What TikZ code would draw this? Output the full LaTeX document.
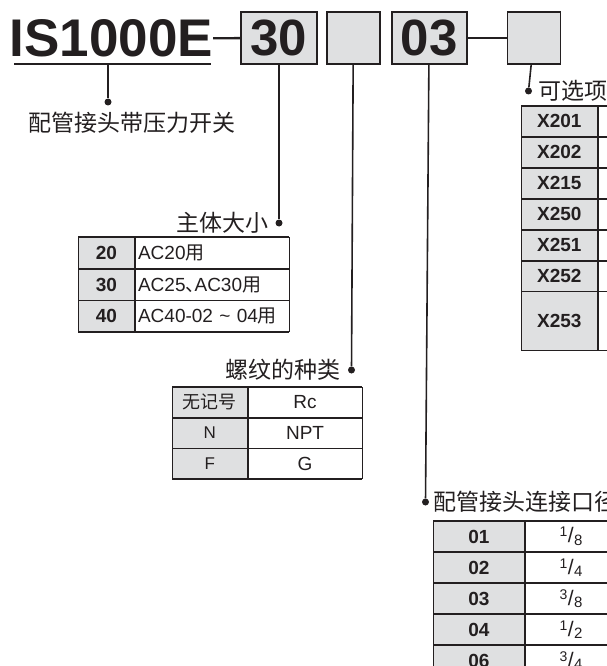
\documentclass[tikz,border=0pt]{standalone}
\usepackage{fontspec}
\setmainfont{Liberation Sans}
\newfontfamily\cjk{Noto Sans CJK SC}
\usetikzlibrary{positioning}

\definecolor{tinta}{RGB}{35,31,32}
\definecolor{grisclave}{RGB}{223,224,225}
\newcommand{\fraccion}[2]{\raisebox{6pt}{\fontsize{14}{14}\selectfont #1}\kern0.5pt{\fontsize{21}{21}\selectfont/}\kern0.5pt\raisebox{-2.5pt}{\fontsize{15}{15}\selectfont #2}}

\begin{document}
\begin{tikzpicture}[
		x=1pt, y=-1pt,
		% Casillas del código
		codebox/.style = {draw=tinta, line width=1.8pt, fill=grisclave, minimum height=52pt, inner sep=0pt, text=tinta, font=\fontsize{51}{51}\selectfont\bfseries},
		% Líneas guía y puntos
		guia/.style = {draw=tinta, line width=1.6pt},
		punto/.style = {circle, fill=tinta, inner sep=0pt, minimum size=7pt},
		etiqueta/.style = {inner sep=0pt, text=tinta, font=\cjk\fontsize{23}{23}\selectfont},
		% Celdas de las tablas
		celda/.style = {draw=tinta, line width=0.7pt, anchor=north west, inner sep=0pt, text=tinta},
		clave/.style = {celda, fill=grisclave, font=\fontsize{19}{19}\selectfont\bfseries},
		valor/.style = {celda, fill=white, font=\fontsize{19}{19}\selectfont},
		tallaclave/.style = {clave, minimum width=56pt, minimum height=31pt},
		tallavalor/.style = {valor, minimum height=31pt, text width=148pt, inner xsep=3pt, align=left},
		roscaclave/.style = {celda, fill=grisclave, minimum width=75pt, minimum height=30pt, font=\fontsize{17}{17}\selectfont},
		roscavalor/.style = {valor, minimum width=114pt, minimum height=30pt},
		conexclave/.style = {clave, minimum width=91pt, minimum height=30.3pt},
		conexvalor/.style = {valor, minimum width=92pt, minimum height=30.3pt},
		opcionclave/.style = {clave, minimum width=76pt, minimum height=30.2pt},
		opcionvalor/.style = {valor, minimum width=100pt, minimum height=30.2pt},
		grueso/.style = {draw=tinta, line width=1.6pt}
		]
		
		\clip (0,0) rectangle (607,666);
		
		% --- CÓDIGO DEL MODELO ---
		\node [inner sep=0pt, anchor=base west, text=tinta, font=\fontsize{53}{53}\selectfont\bfseries] (modelo) at (9.5,57) {IS1000E};
		\draw [tinta, line width=2.6pt] (14,64) -- (211,64);
		\node [codebox, minimum width=76pt] (talla) at (279,38) {30};
		\node [codebox, minimum width=53pt, right=8pt of talla] (rosca) {};
		\node [codebox, minimum width=75pt, right=10pt of rosca] (conex) {03};
		\node [codebox, minimum width=53pt, right=39pt of conex] (opcion) {};
		
		\draw [guia, line width=2.4pt] (modelo) -- (talla);
		\draw [guia, line width=2.4pt] (conex) -- (opcion);
		
		% --- LÍNEAS GUÍA ---
		\coordinate (subrayado) at (108,64);
		\node [punto] (p_modelo) at (108,102) {};
		\node [punto] (p_talla) at (279,223) {};
		\node [punto] (p_rosca) at (351.5,370) {};
		\node [punto] (p_conex) at (425.5,502) {};
		\node [punto] (p_opcion) at (528.5,91) {};
		
		\draw [guia] (subrayado) -- (p_modelo);
		\draw [guia] (talla) -- (p_talla);
		\draw [guia] (rosca) -- (p_rosca);
		\draw [guia] (conex) -- (p_conex);
		\draw [guia] (opcion) -- (p_opcion);
		
		\node [etiqueta] (e_modelo) at (131.5,123) {配管接头带压力开关};
		\node [etiqueta, left=7pt of p_talla] (e_talla) {主体大小};
		\node [etiqueta, left=7.5pt of p_rosca] (e_rosca) {螺纹的种类};
		\node [etiqueta, right=4pt of p_conex] (e_conex) {配管接头连接口径};
		\node [etiqueta, right=6pt of p_opcion] (e_opcion) {可选项};
		
		% --- TABLA: tamaño del cuerpo ---
		\node [tallaclave] (t20) at (78,237) {20};
		\node [tallavalor] (t20v) at (t20.north east) {AC20{\cjk 用}};
		\node [tallaclave] (t30) at (t20.south west) {30};
		\node [tallavalor] (t30v) at (t30.north east) {AC25{\cjk 、}\kern-10pt AC30{\cjk 用}};
		\node [tallaclave] (t40) at (t30.south west) {40};
		\node [tallavalor] (t40v) at (t40.north east) {AC40-02 \char"007E{} 04{\cjk 用}};
		\draw [grueso] (t20.north west) -- (t20v.north east);
		\draw [grueso] (t40.south west) -- (t40v.south east);
		
		% --- TABLA: tipo de rosca ---
		\node [roscaclave] (rc) at (172,387) {\cjk\fontsize{18}{18}\selectfont 无记号};
		\node [roscavalor] (rcv) at (rc.north east) {Rc};
		\node [roscaclave] (rn) at (rc.south west) {N};
		\node [roscavalor] (rnv) at (rn.north east) {NPT};
		\node [roscaclave] (rf) at (rn.south west) {F};
		\node [roscavalor] (rfv) at (rf.north east) {G};
		\draw [grueso] (rc.north west) -- (rcv.north east);
		\draw [grueso] (rf.south west) -- (rfv.south east);
		
		% --- TABLA: conexión ---
		\node [conexclave] (c01) at (433,521) {01};
		\node [conexvalor] (c01v) at (c01.north east) {\fraccion{1}{8}};
		\node [conexclave] (c02) at (c01.south west) {02};
		\node [conexvalor] (c02v) at (c02.north east) {\fraccion{1}{4}};
		\node [conexclave] (c03) at (c02.south west) {03};
		\node [conexvalor] (c03v) at (c03.north east) {\fraccion{3}{8}};
		\node [conexclave] (c04) at (c03.south west) {04};
		\node [conexvalor] (c04v) at (c04.north east) {\fraccion{1}{2}};
		\node [conexclave] (c06) at (c04.south west) {06};
		\node [conexvalor] (c06v) at (c06.north east) {\fraccion{3}{4}};
		\draw [grueso] (c01.north west) -- (c01v.north east);
		
		% --- TABLA: opciones ---
		\node [opcionclave] (x201) at (521,106) {X201};
		\node [opcionvalor] (x201v) at (x201.north east) {};
		\node [opcionclave] (x202) at (x201.south west) {X202};
		\node [opcionvalor] (x202v) at (x202.north east) {};
		\node [opcionclave] (x215) at (x202.south west) {X215};
		\node [opcionvalor] (x215v) at (x215.north east) {};
		\node [opcionclave] (x250) at (x215.south west) {X250};
		\node [opcionvalor] (x250v) at (x250.north east) {};
		\node [opcionclave] (x251) at (x250.south west) {X251};
		\node [opcionvalor] (x251v) at (x251.north east) {};
		\node [opcionclave] (x252) at (x251.south west) {X252};
		\node [opcionvalor] (x252v) at (x252.north east) {};
		\node [opcionclave, minimum height=59pt] (x253) at (x252.south west) {X253};
		\node [opcionvalor, minimum height=59pt] (x253v) at (x253.north east) {};
		\draw [grueso] (x201.north west) -- (x201v.north east);
		
	\end{tikzpicture}
\end{document}
